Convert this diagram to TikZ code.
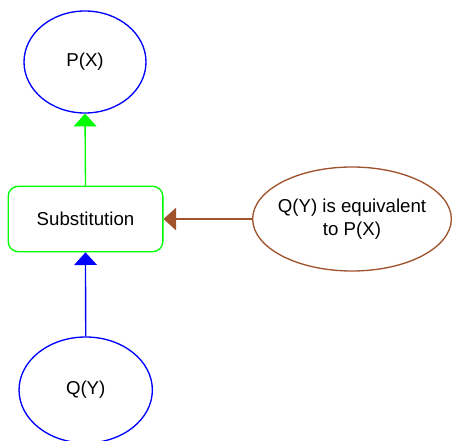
\documentclass[tikz,border=0pt]{standalone}
\usepackage{fontspec}
\setmainfont{Liberation Sans}
\usetikzlibrary{arrows.meta,shapes.geometric}
\definecolor{brn}{HTML}{A0522D}
\begin{document}
\begin{tikzpicture}[x=0.75pt,y=-0.75pt,
  lbl/.style={font=\fontsize{14pt}{17.25pt}\selectfont, text=black, align=center},
  ell/.style={draw, ellipse, line width=1pt, inner sep=0pt},
  tip/.style={-{Triangle[length=9.5pt,width=17pt]}, line width=1pt}
]
\useasboundingbox (0,0) rectangle (452,441);
\node[ell, draw=blue, minimum width=91.5pt, minimum height=76.5pt, lbl] (p) at (85,62) {P(X)};
\node[draw=green, line width=1pt, rounded corners=7.5pt, minimum width=116pt, minimum height=49pt, inner sep=0pt, lbl] (s) at (85.5,219) {Substitution};
\node[ell, draw=blue, minimum width=100pt, minimum height=79.5pt, lbl] (q) at (85.7,390) {Q(Y)};
\node[ell, draw=brn, minimum width=149pt, minimum height=78pt, inner xsep=-4pt, lbl] (r) at (352,219) {Q(Y) is equivalent\\to P(X)};
\draw[tip, green] (s.north) -- (p.south);
\draw[tip, blue] (q.north) -- (s.south);
\draw[tip, brn] (r.west) -- (s.east);
\end{tikzpicture}
\end{document}
